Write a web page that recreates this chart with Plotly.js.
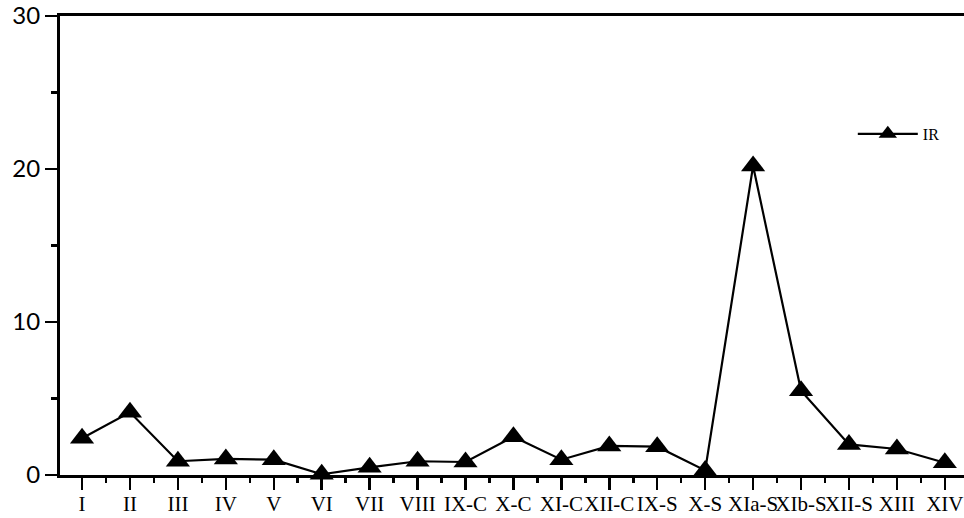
<!DOCTYPE html>
<html>
<head>
<meta charset="utf-8">
<script src="https://cdn.plot.ly/plotly-3.0.1.min.js"></script>
<style>html,body{margin:0;padding:0;background:#fff;}#chart{width:964px;height:518px;}</style>
</head>
<body>
<div id="chart"></div>
<script>
const categories = ["I","II","III","IV","V","VI","VII","VIII","IX-C","X-C","XI-C","XII-C","IX-S","X-S","XIa-S","XIb-S","XII-S","XIII","XIV"];
const irValues = [2.4, 4.1, 0.9, 1.05, 1.0, 0.05, 0.5, 0.9, 0.85, 2.5, 1.0, 1.9, 1.85, 0.3, 20.2, 5.5, 2.0, 1.7, 0.8];
const yTickVals = [0, 10, 20, 30];
const seriesName = "IR";

const idx = categories.map((c, i) => i);

const trace = {
  x: idx,
  y: irValues,
  name: seriesName,
  type: "scatter",
  mode: "lines+markers",
  line: {color: "#000", width: 2.2},
  marker: {symbol: "triangle-up", size: 21, color: "#000"},
  cliponaxis: false
};

const layout = {
  width: 964, height: 518,
  margin: {l: 60, r: 0, t: 16, b: 43},
  paper_bgcolor: "#fff", plot_bgcolor: "#fff",
  showlegend: true,
  legend: {
    x: 0.877, y: 0.743, xanchor: "left", yanchor: "middle",
    font: {family: "Liberation Serif", size: 16, color: "#000"},
    bgcolor: "rgba(0,0,0,0)", itemwidth: 60
  },
  xaxis: {
    range: [-0.46, 18.4],
    tickmode: "array", tickvals: idx, ticktext: categories,
    tickangle: 0, ticklabeloverflow: "allow", ticklabelstandoff: -4,
    showgrid: false, zeroline: false,
    showline: true, linecolor: "#000", linewidth: 3, mirror: true,
    ticks: "outside", ticklen: 12, tickwidth: 2.5, tickcolor: "#000",
    minor: {tickmode: "linear", tick0: 0.5, dtick: 1, ticks: "outside", ticklen: 5, tickwidth: 2.5, tickcolor: "#000", showgrid: false},
    tickfont: {family: "Liberation Serif", size: 21, color: "#000"},
    fixedrange: true
  },
  yaxis: {
    range: [0, 30],
    tickmode: "array", tickvals: yTickVals,
    showgrid: false, zeroline: false,
    showline: true, linecolor: "#000", linewidth: 3,
    ticks: "outside", ticklen: 12, tickwidth: 2.5, tickcolor: "#000",
    minor: {tickmode: "linear", tick0: 5, dtick: 10, ticks: "outside", ticklen: 6, tickwidth: 2.5, tickcolor: "#000", showgrid: false},
    tickfont: {family: "Lato", size: 24, color: "#000"},
    fixedrange: true
  }
};

Plotly.newPlot("chart", [trace], layout, {displayModeBar: false, staticPlot: true});
</script>
</body>
</html>
